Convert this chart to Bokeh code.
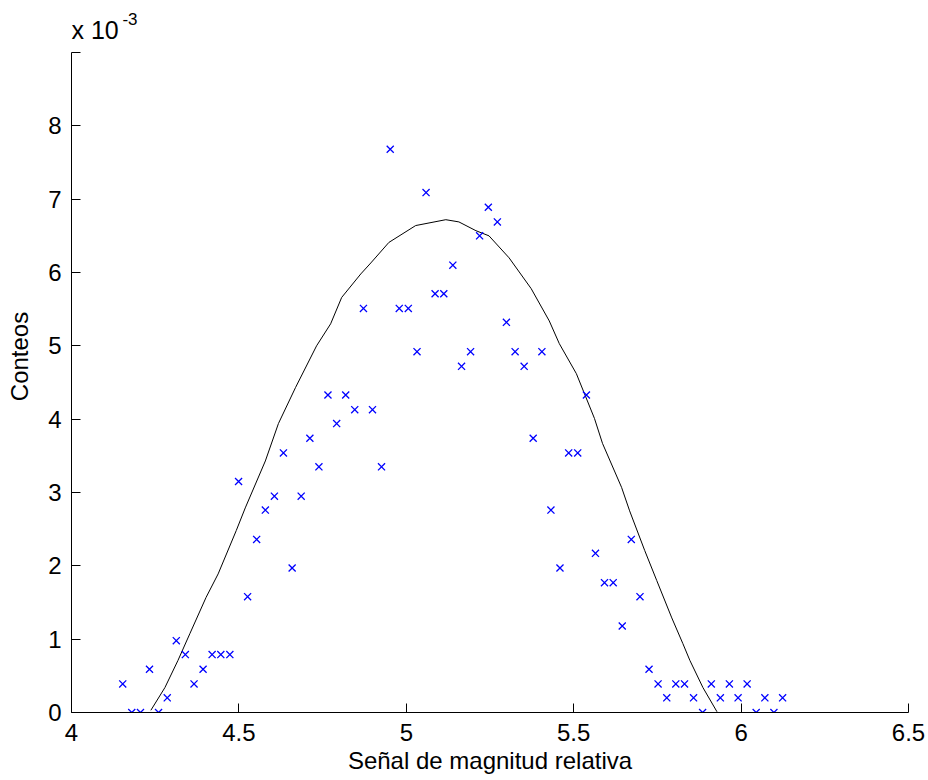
from bokeh.plotting import figure
from bokeh.models import Range1d, FixedTicker
from bokeh.core.properties import value
from bokeh.embed import file_html
from bokeh.resources import INLINE

# Measured points (x: Señal de magnitud relativa, y: Conteos in units of 1e-3)
x_data = [4.153, 4.180, 4.206, 4.233, 4.260, 4.286, 4.313, 4.340, 4.366, 4.393,
          4.420, 4.446, 4.473, 4.499, 4.526, 4.553, 4.579, 4.606, 4.633, 4.659,
          4.686, 4.712, 4.739, 4.766, 4.792, 4.819, 4.846, 4.872, 4.899, 4.926,
          4.952, 4.979, 5.006, 5.032, 5.059, 5.086, 5.112, 5.139, 5.165, 5.192,
          5.219, 5.245, 5.272, 5.299, 5.325, 5.352, 5.379, 5.405, 5.432, 5.459,
          5.485, 5.512, 5.538, 5.565, 5.592, 5.618, 5.645, 5.672, 5.698, 5.725,
          5.752, 5.778, 5.805, 5.831, 5.858, 5.885, 5.911, 5.938, 5.965, 5.991,
          6.018, 6.045, 6.071, 6.098, 6.124]
y_data = [0.39, 0.00, 0.00, 0.59, 0.00, 0.20, 0.98, 0.79, 0.39, 0.59,
          0.79, 0.79, 0.79, 3.15, 1.58, 2.36, 2.76, 2.95, 3.54, 1.97,
          2.95, 3.74, 3.35, 4.33, 3.94, 4.33, 4.13, 5.51, 4.13, 3.35,
          7.68, 5.51, 5.51, 4.92, 7.09, 5.71, 5.71, 6.10, 4.72, 4.92,
          6.50, 6.89, 6.69, 5.32, 4.92, 4.72, 3.74, 4.92, 2.76, 1.97,
          3.54, 3.54, 4.33, 2.17, 1.77, 1.77, 1.18, 2.36, 1.58, 0.59,
          0.39, 0.20, 0.39, 0.39, 0.20, 0.00, 0.39, 0.20, 0.39, 0.20,
          0.39, 0.00, 0.20, 0.00, 0.20]

# Fitted curve
fit_x = [4.237, 4.279, 4.318, 4.354, 4.402, 4.438, 4.492, 4.519, 4.579, 4.618,
         4.669, 4.732, 4.774, 4.807, 4.864, 4.894, 4.948, 5.028, 5.118, 5.157,
         5.208, 5.247, 5.307, 5.373, 5.427, 5.457, 5.508, 5.562, 5.586, 5.643,
         5.667, 5.712, 5.748, 5.793, 5.826, 5.847, 5.886, 5.928]
fit_y = [0.03, 0.34, 0.71, 1.08, 1.57, 1.89, 2.48, 2.79, 3.43, 3.94,
         4.43, 5.00, 5.30, 5.66, 5.98, 6.13, 6.41, 6.64, 6.72, 6.69,
         6.57, 6.50, 6.20, 5.78, 5.34, 5.03, 4.62, 4.01, 3.67, 3.07,
         2.75, 2.21, 1.80, 1.29, 0.94, 0.71, 0.34, 0.01]

x_ticks = [4, 4.5, 5, 5.5, 6, 6.5]
x_tick_labels = ["4", "4.5", "5", "5.5", "6", "6.5"]
y_ticks = [0, 1, 2, 3, 4, 5, 6, 7, 8, 9]
y_tick_labels = ["0", "1", "2", "3", "4", "5", "6", "7", "8", ""]
y_axis_max = 9

# exponent note above the y axis ("x 10^-3")
exp_base_text = ["x 10"]
exp_base_pos = ([4.0], [9.31])
exp_sup_text = ["-3"]
exp_sup_pos = ([4.152], [9.45])

FONT = "Liberation Sans"

p = figure(frame_width=837, frame_height=712,
           x_range=Range1d(4, 6.5), y_range=Range1d(0, 9.709),
           output_backend="svg", toolbar_location=None,
           min_border_left=71, min_border_right=18,
           min_border_top=0, min_border_bottom=66)
p.outline_line_color = None
p.xgrid.visible = False
p.ygrid.visible = False
p.background_fill_color = "white"
p.border_fill_color = "white"

p.line(fit_x, fit_y, line_color="black", line_width=1)
p.scatter(x_data, y_data, marker="x", size=10, line_color="#0000ff", line_width=1.3)

p.text(x=exp_base_pos[0], y=exp_base_pos[1], text=exp_base_text,
       text_font=value(FONT), text_font_size=value("25px"), text_color="black",
       text_baseline=value("alphabetic"), text_align=value("left"))
p.text(x=exp_sup_pos[0], y=exp_sup_pos[1], text=exp_sup_text,
       text_font=value(FONT), text_font_size=value("17px"), text_color="black",
       text_baseline=value("alphabetic"), text_align=value("left"))

for ax in (p.xaxis[0], p.yaxis[0]):
    ax.axis_line_color = "black"
    ax.axis_line_width = 1
    ax.major_tick_in = 9
    ax.major_tick_out = 0
    ax.minor_tick_in = 0
    ax.minor_tick_out = 0
    ax.major_tick_line_color = "black"
    ax.major_label_text_font = FONT
    ax.major_label_text_font_size = "24px"
    ax.major_label_text_color = "black"
    ax.axis_label_text_font = FONT
    ax.axis_label_text_font_size = "24px"
    ax.axis_label_text_font_style = "normal"
    ax.axis_label_text_color = "black"

p.yaxis.bounds = (0, y_axis_max)
p.xaxis.ticker = FixedTicker(ticks=x_ticks)
p.xaxis.major_label_overrides = {t: s for t, s in zip(x_ticks, x_tick_labels)}
p.yaxis.ticker = FixedTicker(ticks=y_ticks)
p.yaxis.major_label_overrides = {t: s for t, s in zip(y_ticks, y_tick_labels)}
p.xaxis.major_label_standoff = 11
p.yaxis.major_label_standoff = 10
p.xaxis.axis_label = "Señal de magnitud relativa"
p.yaxis.axis_label = "Conteos"
p.xaxis.axis_label_standoff = 3
p.yaxis.axis_label_standoff = 12

open("out.html", "w").write(file_html(p, INLINE))
